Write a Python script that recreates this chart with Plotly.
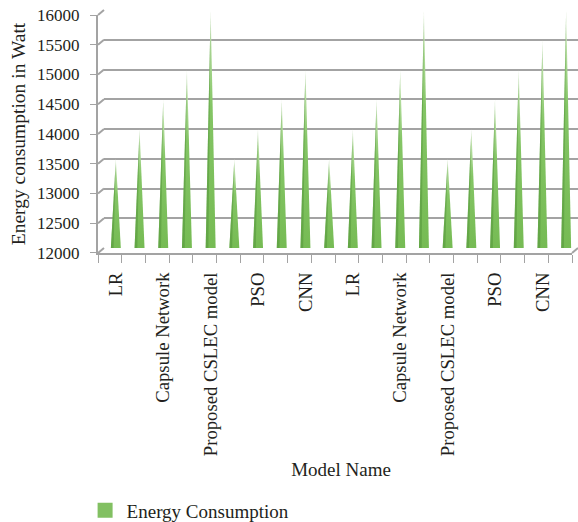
import plotly.graph_objects as go

# Energy consumption per model run (Watt)
values = [13500, 14000, 14500, 15000, 16000,
          13500, 14000, 14500, 15000,
          13500, 14000, 14500, 15000, 16000,
          13500, 14000, 14500, 15000, 15500, 16000]

# Category labels shown on every other position along the x axis
shown_labels = ["LR", "Capsule Network", "Proposed CSLEC model", "PSO", "CNN",
                "LR", "Capsule Network", "Proposed CSLEC model", "PSO", "CNN"]

y_ticks = [12000, 12500, 13000, 13500, 14000, 14500, 15000, 15500, 16000]

Y_MIN, Y_MAX = 12000, 16000
PAD = 12  # small range padding so the edge grid lines are kept
FONT = "Liberation Serif"
TEXT = "#231f20"
GRID = "#a3a3a3"

# 3D-style layout: a front plane (axes, ticks, labels) and a back wall
# (grid and cones) offset up and to the right.
FRONT_X = [0.0, 0.9875]
BACK_X = [0.0125, 1.0]
FRONT_Y = [0.0, 0.9794]
BACK_Y = [0.0206, 1.0]

positions = list(range(1, len(values) + 1))
label_positions = positions[::2]
half_w = 0.21

fig = go.Figure()

for x, v in zip(positions, values):
    # cone body with a vertical fade toward the tip
    fig.add_trace(go.Scatter(
        x=[x - half_w, x, x + half_w, x - half_w],
        y=[Y_MIN, v, Y_MIN, Y_MIN],
        fill="toself", mode="lines", line=dict(width=0),
        fillcolor="#7cbf5b",
        fillgradient=dict(type="vertical", start=Y_MIN, stop=v,
                          colorscale=[[0, "#76bb54"], [0.6, "#84c565"],
                                      [0.85, "#b6dea1"], [1, "#f6fbf3"]]),
        xaxis="x2", yaxis="y2", showlegend=False, hoverinfo="skip"))
    # shaded left flank
    fig.add_trace(go.Scatter(
        x=[x - half_w, x, x - half_w * 0.45, x - half_w],
        y=[Y_MIN, v, Y_MIN, Y_MIN],
        fill="toself", mode="lines", line=dict(width=0),
        fillcolor="rgba(80,145,55,0.5)",
        xaxis="x2", yaxis="y2", showlegend=False, hoverinfo="skip"))

# legend key (lives on the front axes so that subplot is drawn)
fig.add_trace(go.Scatter(
    x=[None], y=[None], mode="markers", name="Energy Consumption",
    marker=dict(symbol="square", size=15, color="#82c062"),
    xaxis="x", yaxis="y"))

# short diagonals joining the front axis to the back-wall grid lines
shapes = []
for v in y_ticks:
    frac = (v - Y_MIN) / (Y_MAX - Y_MIN)
    fy = FRONT_Y[0] + frac * (FRONT_Y[1] - FRONT_Y[0])
    by = BACK_Y[0] + frac * (BACK_Y[1] - BACK_Y[0])
    shapes.append(dict(type="line", xref="paper", yref="paper",
                       x0=FRONT_X[0], y0=fy, x1=BACK_X[0], y1=by,
                       line=dict(color=GRID, width=2)))
shapes.append(dict(type="line", xref="paper", yref="paper",
                   x0=FRONT_X[1], y0=FRONT_Y[0], x1=BACK_X[1], y1=BACK_Y[0],
                   line=dict(color=GRID, width=2)))

# back-wall domain widened by the padding so values map to the same pixels
span = Y_MAX - Y_MIN
dy = (BACK_Y[1] - BACK_Y[0]) * PAD / span
back_y_dom = [BACK_Y[0] - dy, min(1.0, BACK_Y[1] + dy)]
back_range = [Y_MIN - PAD, Y_MAX + PAD * (back_y_dom[1] - BACK_Y[1]) / dy]

fig.update_layout(
    width=578, height=522,
    margin=dict(l=98, r=0, t=10, b=269, autoexpand=False),
    paper_bgcolor="white", plot_bgcolor="rgba(0,0,0,0)",
    font=dict(family=FONT, color=TEXT, size=18),
    shapes=shapes,
    # front plane: axis lines, boundary ticks, value labels, titles
    xaxis=dict(
        domain=FRONT_X, range=[0.5, len(values) + 0.5], anchor="y",
        tickmode="array", tickvals=[], ticks="", automargin=False,
        minor=dict(ticks="outside", ticklen=8, tickwidth=1, tickcolor=GRID,
                   tick0=0.5, dtick=1, showgrid=False),
        showline=True, linecolor=GRID, linewidth=2,
        showgrid=False, zeroline=False),
    yaxis=dict(
        domain=FRONT_Y, range=[Y_MIN, Y_MAX], anchor="x", automargin=False,
        tickmode="array", tickvals=y_ticks,
        ticktext=[str(v) for v in y_ticks], tickfont=dict(size=17),
        ticks="outside", ticklen=6, tickwidth=1, tickcolor=GRID,
        ticklabelstandoff=7,
        showline=True, linecolor=GRID, linewidth=2,
        showgrid=False, zeroline=False,
        title=dict(text="Energy consumption in Watt", font=dict(size=19.5),
                   standoff=6)),
    # back wall: cones, grid and category labels
    xaxis2=dict(domain=BACK_X, range=[0.5, len(values) + 0.5],
                anchor="free", position=0, automargin=False,
                tickmode="array", tickvals=label_positions,
                ticktext=shown_labels, tickangle=-90,
                tickfont=dict(size=18.7),
                ticks="outside", ticklen=11, tickcolor="rgba(0,0,0,0)",
                showline=False, showgrid=False, zeroline=False,
                title=dict(text="Model Name", font=dict(size=19),
                           standoff=7)),
    yaxis2=dict(domain=back_y_dom, range=back_range, anchor="x2",
                automargin=False,
                tickmode="array", tickvals=y_ticks, showticklabels=False,
                ticks="", showgrid=True, gridcolor=GRID, gridwidth=2,
                zeroline=False, showline=False),
    showlegend=True,
    legend=dict(x=-0.030, y=-0.981, xanchor="left", yanchor="top",
                itemwidth=33, font=dict(size=19), bgcolor="rgba(0,0,0,0)"),
)

fig.write_html("out.html")
